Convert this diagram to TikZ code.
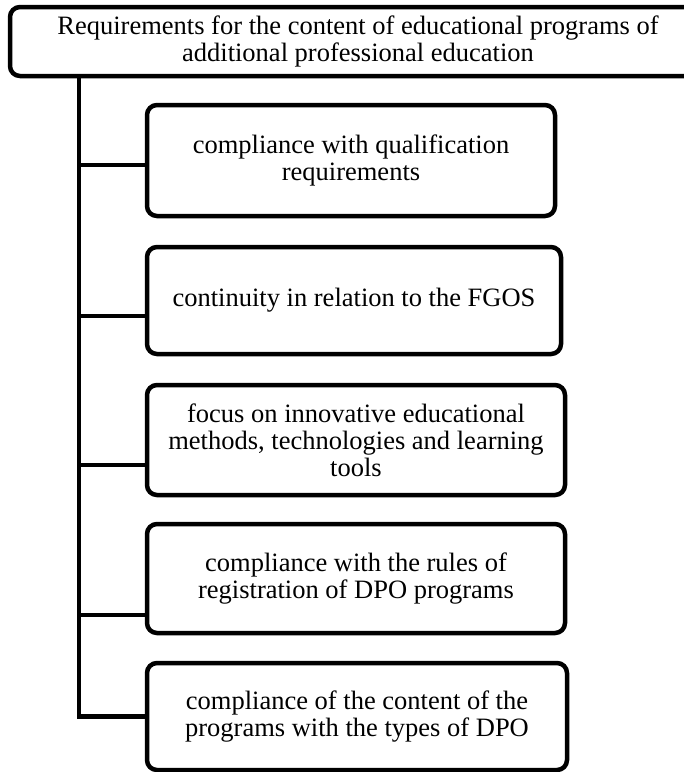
\documentclass[tikz,border=0pt]{standalone}
\usepackage{fontspec}
\setmainfont{Liberation Serif}
\begin{document}
\begin{tikzpicture}[x=1pt,y=-1pt,
  boxstyle/.style={draw=black, line width=4.5pt, rounded corners=10pt, inner sep=0pt,
    align=center, font=\fontsize{26.5}{27}\selectfont},
  linkstyle/.style={draw=black, line width=4.5pt}]
\useasboundingbox (0,0) rectangle (684,772);
\clip (0,0) rectangle (684,772);
\node[boxstyle, minimum width=696pt, minimum height=69pt] (top) at (358,41.5)
  {Requirements for the content of educational programs of\\additional professional education};
\node[boxstyle, minimum width=408pt, minimum height=111pt] (b1) at (351,160.5)
  {compliance with qualification\\requirements};
\node[boxstyle, minimum width=414pt, minimum height=107pt] (b2) at (354,300.5)
  {continuity in relation to the FGOS};
\node[boxstyle, minimum width=418pt, minimum height=110pt] (b3) at (356,440)
  {focus on innovative educational\\methods, technologies and learning\\tools};
\node[boxstyle, minimum width=418pt, minimum height=109pt] (b4) at (356,578.5)
  {compliance with the rules of\\registration of DPO programs};
\node[boxstyle, minimum width=420pt, minimum height=107pt] (b5) at (357,716.5)
  {compliance of the content of the\\programs with the types of DPO};
\coordinate (trunk) at ([xshift=-279pt]top.south);
\coordinate (s1) at ([xshift=2pt,yshift=-4.5pt]b1.west);
\coordinate (s2) at ([xshift=2pt,yshift=-15.5pt]b2.west);
\coordinate (s3) at ([xshift=2pt,yshift=-25pt]b3.west);
\coordinate (s4) at ([xshift=2pt,yshift=-36.5pt]b4.west);
\draw[linkstyle] (trunk) |- (b5.west);
\draw[linkstyle] (trunk |- s1) -- (s1);
\draw[linkstyle] (trunk |- s2) -- (s2);
\draw[linkstyle] (trunk |- s3) -- (s3);
\draw[linkstyle] (trunk |- s4) -- (s4);
\end{tikzpicture}
\end{document}
